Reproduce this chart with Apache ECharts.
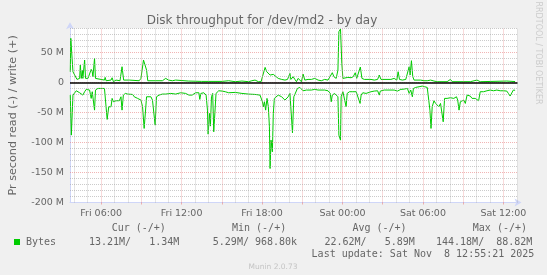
<!DOCTYPE html>
<html><head><meta charset="utf-8">
<script src="https://cdn.jsdelivr.net/npm/echarts@6.0.0/dist/echarts.min.js"></script>
<style>html,body{margin:0;padding:0;background:#F0F0F0;}#c{width:547px;height:275px;}</style>
</head><body><div id="c"></div>
<script>
// Time in hours since Fri 00:00; values in MB/s (read plotted negative)
const readHours = [3.70,3.78,3.90,4.03,4.15,4.27,4.40,4.52,4.64,4.77,4.89,5.02,5.14,5.26,5.34,5.44,5.51,5.58,5.76,6.25,6.32,6.37,6.45,6.57,6.62,6.74,6.82,6.92,7.11,7.36,7.48,7.56,7.66,7.81,7.98,8.35,8.47,8.72,8.97,9.09,9.21,9.29,9.39,9.48,9.71,9.83,9.95,10.03,10.13,10.32,10.57,10.82,11.19,11.56,11.93,12.05,12.30,12.55,12.67,12.79,13.04,13.29,13.36,13.44,13.66,13.83,13.93,13.98,14.08,14.15,14.23,14.32,14.40,14.52,14.57,14.67,14.77,15.02,15.26,15.51,16.00,16.50,16.99,17.48,17.85,17.93,18.03,18.10,18.18,18.27,18.37,18.47,18.55,18.60,18.67,18.77,18.84,18.92,19.02,19.21,19.46,19.71,19.83,19.95,20.08,20.20,20.27,20.37,20.50,20.64,20.82,20.94,21.06,21.19,21.31,21.43,21.68,21.93,22.18,22.67,22.92,23.09,23.16,23.24,23.41,23.53,23.66,23.73,23.85,23.90,24.03,24.15,24.27,24.35,24.52,24.77,24.89,25.02,25.14,25.31,25.39,25.51,25.76,25.88,26.13,26.37,26.62,26.74,26.82,27.11,27.85,28.10,28.22,28.35,28.60,28.84,28.97,29.09,29.21,29.29,29.46,29.71,29.95,30.13,30.32,30.45,30.52,30.60,30.69,30.82,30.94,31.06,31.19,31.31,31.43,31.51,31.61,31.80,32.05,32.30,32.50,32.59,32.69,32.79,32.92,33.04,33.16,33.29,33.41,33.53,33.66,33.78,33.90,34.03,34.15,34.27,34.40,34.52,34.77,35.01,35.26,35.51,35.76,36.00,36.25,36.37,36.50,36.62,36.74,36.87];
const readValues = [-21.2,-87.8,-21.2,-18.4,-14.0,-15.6,-17.3,-18.4,-21.2,-15.6,-11.7,-12.8,-12.8,-26.7,-15.6,-18.4,-46.2,-12.8,-10.1,-10.1,-12.8,-40.6,-61.7,-40.6,-37.8,-40.6,-26.7,-32.3,-30.6,-30.6,-24.0,-46.2,-21.2,-18.4,-19.5,-20.1,-24.0,-26.7,-29.5,-40.6,-76.7,-75.1,-24.0,-21.2,-24.0,-29.5,-32.3,-71.2,-24.0,-21.2,-19.5,-19.5,-18.4,-19.5,-17.3,-19.5,-18.4,-21.2,-18.4,-21.2,-17.3,-17.3,-28.4,-18.4,-17.3,-21.2,-46.2,-86.2,-51.7,-72.8,-24.0,-18.4,-82.3,-82.3,-18.4,-15.6,-14.0,-14.5,-15.6,-17.3,-16.7,-18.4,-19.5,-20.1,-21.2,-24.0,-32.3,-40.6,-32.3,-46.2,-26.7,-40.6,-74.0,-143.4,-96.2,-115.6,-51.7,-26.7,-24.0,-21.2,-24.0,-29.5,-26.7,-24.0,-18.4,-21.2,-84.0,-24.0,-21.2,-10.1,-8.4,-8.4,-14.0,-11.7,-12.8,-11.7,-12.8,-11.7,-12.8,-12.8,-14.0,-18.4,-32.3,-21.2,-18.4,-15.6,-24.0,-87.8,-96.2,-24.0,-15.6,-18.4,-40.6,-18.4,-15.6,-15.6,-18.4,-15.6,-18.4,-35.1,-21.2,-17.3,-18.4,-17.3,-15.6,-14.5,-14.0,-21.2,-14.5,-12.8,-12.8,-14.5,-12.8,-11.7,-11.2,-10.1,-18.4,-12.8,-24.0,-10.1,-8.4,-7.3,-6.2,-7.3,-8.4,-10.1,-46.2,-76.7,-40.6,-30.6,-35.1,-37.8,-40.6,-35.1,-32.3,-65.6,-26.7,-26.7,-25.6,-26.7,-24.0,-29.5,-46.2,-32.3,-35.1,-29.5,-35.1,-21.2,-24.0,-22.8,-26.7,-24.0,-26.7,-29.5,-30.6,-15.6,-14.0,-15.6,-14.0,-12.8,-14.0,-12.8,-14.0,-14.0,-14.5,-18.4,-22.8,-21.2,-12.8,-13.2];
const writeHours = [3.70,3.74,3.90,4.03,4.20,4.40,4.45,4.52,4.60,4.64,4.77,4.84,5.02,5.14,5.26,5.34,5.39,5.51,5.58,5.63,6.25,6.30,6.37,6.74,6.82,6.92,7.11,7.24,7.41,7.56,7.68,8.10,8.84,8.97,9.16,9.29,9.39,9.48,10.57,10.82,11.02,11.31,11.56,12.50,13.50,15.02,15.14,15.51,16.00,16.50,16.99,17.24,17.48,17.73,17.93,18.03,18.23,18.35,18.47,18.60,18.72,18.84,18.97,19.21,19.46,19.71,19.90,20.08,20.15,20.32,20.45,20.57,20.69,20.82,20.94,21.06,21.19,21.43,21.68,21.93,22.18,22.42,22.67,22.92,23.04,23.24,23.36,23.53,23.66,23.73,23.85,23.95,24.03,24.15,24.40,24.64,24.80,24.95,25.06,25.19,25.33,25.45,25.51,25.63,26.13,26.25,26.37,26.62,26.74,26.87,27.61,27.85,28.05,28.15,28.25,28.47,28.72,28.84,28.97,29.04,29.14,29.24,29.34,29.83,30.08,30.20,30.32,30.57,30.82,31.06,31.80,32.05,32.18,33.53,34.03,34.15,34.27,36.25,36.87];
const writeValues = [17.7,73.3,17.7,14.9,4.9,6.6,28.8,6.6,20.5,6.6,37.2,6.6,6.6,9.4,21.6,17.7,9.4,40.0,6.6,3.8,3.8,8.3,2.7,3.8,7.7,1.1,3.8,6.6,2.7,26.0,3.8,3.8,2.7,6.6,37.2,36.1,20.5,2.7,2.7,6.6,3.8,2.7,3.8,2.2,1.6,1.6,3.8,2.7,1.1,2.2,1.1,2.7,3.8,1.1,1.1,9.4,24.9,17.7,16.1,12.2,10.5,13.3,10.5,6.6,4.9,3.8,4.9,14.9,4.9,9.4,4.9,1.1,6.6,3.8,1.1,13.8,3.8,4.9,4.9,6.6,3.8,2.7,4.9,3.8,4.9,16.1,9.4,6.6,20.5,84.4,88.8,31.6,6.6,9.4,8.3,7.7,9.4,16.0,6.6,9.4,25.5,6.6,6.6,4.9,4.9,6.6,3.8,4.9,12.2,4.9,4.9,6.6,3.8,17.7,4.9,3.8,4.9,6.6,26.0,12.2,36.1,9.4,3.8,3.8,2.7,4.9,2.7,3.8,2.2,1.1,1.1,4.9,1.1,1.1,3.8,3.8,1.1,2.2,1.34];

const xLabelHours = [6,12,18,24,30,36];
const xLabels = ['Fri 06:00','Fri 12:00','Fri 18:00','Sat 00:00','Sat 06:00','Sat 12:00'];
const xGridHours = [4,5,6,7,8,9,10,11,12,13,14,15,16,17,18,19,20,21,22,23,24,25,26,27,28,29,30,31,32,33,34,35,36,37];
const yGridValues = [-190,-180,-170,-160,-150,-140,-130,-120,-110,-100,-90,-80,-70,-60,-50,-40,-30,-20,-10,0,10,20,30,40,50,60,70,80,90];
const yLabelValues = [-200,-150,-100,-50,0,50];
const yLabels = ['-200 M','-150 M','-100 M','-50 M','0','50 M'];
const statHeaders = ['Cur (-/+)','Min (-/+)','Avg (-/+)','Max (-/+)'];
const statValues = ['13.21M/   1.34M','5.29M/ 968.80k','22.62M/   5.89M','144.18M/  88.82M'];
const seriesName = 'Bytes';

const FONT = '#666666';
const MINOR = 'rgba(160,160,160,0.55)';
const MAJOR = 'rgba(230,120,120,0.55)';
const GREEN = '#00CC00';
const AXISC = '#CFD6F8';

const chart = echarts.init(document.getElementById('c'), null, {renderer: 'canvas'});
const headerX = [111.7, 232, 352.4, 472.8];
const valueX = [89, 212.8, 324.5, 436];
const monoFont = '10px "DejaVu Sans Mono"';
const graphics = [
  {type:'text', style:{text:'Disk throughput for /dev/md2 - by day', x:262, y:20.5, align:'center', verticalAlign:'middle', font:'12px "DejaVu Sans"', fill:FONT}},
  {type:'text', x: 538, y: 53, rotation: -Math.PI/2, style:{text:'RRDTOOL / TOBI OETIKER', align:'center', verticalAlign:'middle', font:'8px "DejaVu Sans"', fill:'#CCCCCC'}},
  {type:'rect', shape:{x:14, y:239, width:6, height:6}, style:{fill:GREEN}},
  {type:'text', style:{text:seriesName, x:26, y:242, verticalAlign:'middle', font:monoFont, fill:FONT}},
  {type:'text', style:{text:'Last update: Sat Nov  8 12:55:21 2025', x:311.6, y:254.3, verticalAlign:'middle', font:monoFont, fill:FONT}},
  {type:'text', style:{text:'Munin 2.0.73', x:273, y:267, align:'center', verticalAlign:'middle', font:'7.5px "DejaVu Sans"', fill:'#C4C4C4'}}
];
statHeaders.forEach((t,i)=>graphics.push({type:'text', style:{text:t, x:headerX[i], y:228.8, verticalAlign:'middle', font:monoFont, fill:FONT}}));
statValues.forEach((t,i)=>graphics.push({type:'text', style:{text:t, x:valueX[i], y:242, verticalAlign:'middle', font:monoFont, fill:FONT}}));

const gridLine = (major) => ({color: major ? MAJOR : MINOR, type: [1,1], width: 1});
const option = {
  backgroundColor: '#F0F0F0',
  animation: false,
  grid: {left: 67, right: 29.5, top: 28.3, bottom: 72.5, show: true, backgroundColor: '#FFFFFF', borderWidth: 0},
  xAxis: {
    type: 'value', min: 3.68, max: 37.05,
    axisLine: {onZero: false, lineStyle: {color: AXISC, width: 1}, symbol: ['none','arrow'], symbolSize: [6,7], symbolOffset: [0,4]},
    axisTick: {show: true, customValues: [6,9,12,15,18,21,24,27,30,33,36], length: 2, lineStyle: {color: MAJOR}},
    axisLabel: {customValues: xLabelHours, formatter: v => xLabels[xLabelHours.indexOf(v)] || '', color: FONT, fontFamily: 'DejaVu Sans', fontSize: 9.5, margin: 6},
    splitLine: {show: false}
  },
  yAxis: {
    type: 'value', min: -200, max: 90, interval: 10,
    name: 'Pr second read (-) / write (+)', nameLocation: 'middle', nameGap: 51,
    nameTextStyle: {color: FONT, fontFamily: 'DejaVu Sans', fontSize: 11.2},
    axisLine: {show: true, lineStyle: {color: AXISC, width: 1}, symbol: ['none','arrow'], symbolSize: [6,7], symbolOffset: [0,6]},
    axisTick: {show: false},
    axisLabel: {customValues: yLabelValues, formatter: v => { const i = yLabelValues.indexOf(v); return i >= 0 ? yLabels[i] : ''; }, color: FONT, fontFamily: 'DejaVu Sans', fontSize: 9.5, margin: 6},
    splitLine: {show: false}
  },
  graphic: graphics,
  series: [
    {type: 'line', data: [], z: 1, silent: true,
     markLine: {silent: true, symbol: ['none','none'], label: {show: false}, animation: false,
       data: xGridHours.map(h => ({xAxis: h, lineStyle: gridLine(h % 3 === 0)}))
         .concat(yGridValues.map(v => ({yAxis: v, lineStyle: gridLine(v % 50 === 0)})))}},
    {type: 'line', name: seriesName, data: readHours.map((h,i)=>[h, readValues[i]]), showSymbol: false, symbol: 'none', z: 3,
     lineStyle: {color: GREEN, width: 1}},
    {type: 'line', name: seriesName, data: writeHours.map((h,i)=>[h, writeValues[i]]), showSymbol: false, symbol: 'none', z: 3,
     lineStyle: {color: GREEN, width: 1}},
    {type: 'line', data: [], z: 4, silent: true,
     markLine: {silent: true, symbol: ['none','none'], label: {show: false}, animation: false,
       data: [{yAxis: 0, lineStyle: {color: '#000000', type: 'solid', width: 1.5}}]}}
  ]
};
chart.setOption(option);
</script></body></html>
